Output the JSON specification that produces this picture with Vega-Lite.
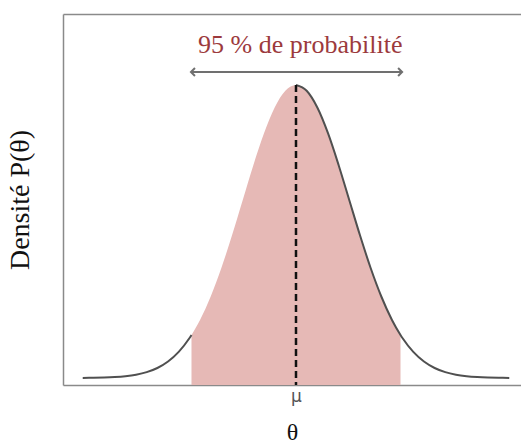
{
  "$schema": "https://vega.github.io/schema/vega-lite/v6.json",
  "width": 458,
  "height": 371,
  "autosize": "none",
  "padding": {"left": 63, "top": 14, "right": 0, "bottom": 58},
  "background": "white",
  "config": {
    "view": {"stroke": null},
    "axis": {"grid": false, "domainColor": "#8a8a8a", "domainWidth": 1.5},
    "axisBottom": {"labelFontSize": 17, "labelFont": "DejaVu Sans", "labelColor": "#555555"}
  },
  "datasets": {
    "curve": [
      {"theta": -4.0, "density": 0.0003},
      {"theta": -3.8, "density": 0.0007},
      {"theta": -3.6, "density": 0.0015},
      {"theta": -3.4, "density": 0.0031},
      {"theta": -3.2, "density": 0.0060},
      {"theta": -3.0, "density": 0.0111},
      {"theta": -2.8, "density": 0.0198},
      {"theta": -2.6, "density": 0.0340},
      {"theta": -2.4, "density": 0.0561},
      {"theta": -2.2, "density": 0.0889},
      {"theta": -2.0, "density": 0.1353},
      {"theta": -1.96, "density": 0.1465},
      {"theta": -1.8, "density": 0.1979},
      {"theta": -1.6, "density": 0.2780},
      {"theta": -1.4, "density": 0.3753},
      {"theta": -1.2, "density": 0.4868},
      {"theta": -1.0, "density": 0.6065},
      {"theta": -0.8, "density": 0.7261},
      {"theta": -0.6, "density": 0.8353},
      {"theta": -0.4, "density": 0.9231},
      {"theta": -0.2, "density": 0.9802},
      {"theta": 0.0, "density": 1.0},
      {"theta": 0.2, "density": 0.9802},
      {"theta": 0.4, "density": 0.9231},
      {"theta": 0.6, "density": 0.8353},
      {"theta": 0.8, "density": 0.7261},
      {"theta": 1.0, "density": 0.6065},
      {"theta": 1.2, "density": 0.4868},
      {"theta": 1.4, "density": 0.3753},
      {"theta": 1.6, "density": 0.2780},
      {"theta": 1.8, "density": 0.1979},
      {"theta": 1.96, "density": 0.1465},
      {"theta": 2.0, "density": 0.1353},
      {"theta": 2.2, "density": 0.0889},
      {"theta": 2.4, "density": 0.0561},
      {"theta": 2.6, "density": 0.0340},
      {"theta": 2.8, "density": 0.0198},
      {"theta": 3.0, "density": 0.0111},
      {"theta": 3.2, "density": 0.0060},
      {"theta": 3.4, "density": 0.0031},
      {"theta": 3.6, "density": 0.0015},
      {"theta": 3.8, "density": 0.0007},
      {"theta": 4.0, "density": 0.0003}
    ],
    "one": [{}]
  },
  "resolve": {"axis": {"x": "independent"}},
  "layer": [
    {
      "data": {"name": "curve"},
      "transform": [{"filter": "datum.theta >= -1.96 && datum.theta <= 1.96"}],
      "mark": {"type": "area", "color": "#e6b9b6", "interpolate": "monotone", "opacity": 1},
      "encoding": {
        "x": {
          "field": "theta", "type": "quantitative",
          "scale": {"domain": [-4.37, 4.22], "nice": false, "zero": false},
          "axis": {
            "orient": "bottom", "values": [0], "labelExpr": "'μ'", "ticks": false,
            "labelFont": "DejaVu Sans", "labelFontSize": 17, "labelColor": "#555555", "labelPadding": 3,
            "title": "θ", "titleFont": "Liberation Serif", "titleFontSize": 24,
            "titleFontWeight": "normal", "titleColor": "#111111", "titlePadding": 16
          }
        },
        "y": {
          "field": "density", "type": "quantitative",
          "scale": {"domain": [-0.024, 1.242], "nice": false, "zero": false},
          "axis": {
            "labels": false, "ticks": false, "title": "Densité P(θ)",
            "titleFont": "Liberation Serif", "titleFontSize": 28, "titleFontWeight": "normal",
            "titleColor": "#111111", "titlePadding": 29
          }
        },
        "y2": {"datum": -0.024}
      }
    },
    {
      "data": {"name": "curve"},
      "transform": [{"filter": "datum.theta <= -1.96"}],
      "mark": {"type": "line", "color": "#505050", "strokeWidth": 2, "interpolate": "monotone"},
      "encoding": {
        "x": {"field": "theta", "type": "quantitative", "axis": null},
        "y": {"field": "density", "type": "quantitative"}
      }
    },
    {
      "data": {"name": "curve"},
      "transform": [{"filter": "datum.theta >= 0"}],
      "mark": {"type": "line", "color": "#505050", "strokeWidth": 2, "interpolate": "monotone"},
      "encoding": {
        "x": {
          "field": "theta", "type": "quantitative",
          "axis": {"orient": "top", "labels": false, "ticks": false, "title": null, "domain": true}
        },
        "y": {"field": "density", "type": "quantitative"}
      }
    },
    {
      "data": {"name": "one"},
      "mark": {"type": "rule", "color": "#111111", "strokeWidth": 2.5, "strokeDash": [7, 4]},
      "encoding": {
        "x": {"datum": 0, "type": "quantitative", "axis": null},
        "y": {"datum": 1.0, "type": "quantitative"},
        "y2": {"datum": -0.024}
      }
    },
    {
      "data": {"name": "one"},
      "mark": {"type": "rule", "color": "#707070", "strokeWidth": 2},
      "encoding": {
        "x": {"datum": -1.97, "type": "quantitative", "axis": null},
        "x2": {"datum": 1.99},
        "y": {"datum": 1.044, "type": "quantitative"}
      }
    },
    {
      "data": {"name": "one"},
      "mark": {"type": "point", "shape": "M1,-1L0,0L1,1", "filled": false, "stroke": "#707070", "strokeWidth": 2, "size": 64, "opacity": 1},
      "encoding": {
        "x": {"datum": -1.97, "type": "quantitative", "axis": null},
        "y": {"datum": 1.044, "type": "quantitative"}
      }
    },
    {
      "data": {"name": "one"},
      "mark": {"type": "point", "shape": "M-1,-1L0,0L-1,1", "filled": false, "stroke": "#707070", "strokeWidth": 2, "size": 64, "opacity": 1},
      "encoding": {
        "x": {"datum": 1.99, "type": "quantitative", "axis": null},
        "y": {"datum": 1.044, "type": "quantitative"}
      }
    },
    {
      "data": {"name": "one"},
      "mark": {"type": "text", "text": "95 % de probabilité", "font": "Liberation Serif", "fontSize": 26, "color": "#9c3a3d", "align": "center", "baseline": "alphabetic"},
      "encoding": {
        "x": {"datum": 0.08, "type": "quantitative", "axis": null},
        "y": {"datum": 1.109, "type": "quantitative"}
      }
    }
  ]
}
